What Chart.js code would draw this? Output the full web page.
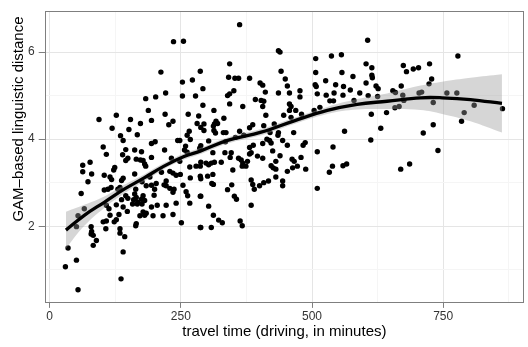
<!DOCTYPE html>
<html>
<head>
<meta charset="utf-8">
<script src="https://cdn.jsdelivr.net/npm/chart.js@4/dist/chart.umd.min.js"></script>
<style>
  html, body { margin: 0; padding: 0; background: #ffffff; }
  canvas { display: block; }
</style>
</head>
<body>
<canvas id="chart" width="528" height="347"></canvas>
<script>
// Travel time between locations (minutes) and their linguistic distance
const travelTime = [
  236,255,212,253,272,183,202,221,253,278,188,220,264,284,94,127,154,173,194,235,227,119,151,167,135,140,194,201,244,248,266,262,268,259,281,102,
  362,436,439,507,537,556,343,287,341,353,360,381,441,449,507,557,526,453,401,406,506,508,545,560,292,351,339,343,411,436,457,477,477,510,527,542,559,534,541,392,403,408,343,292,368,406,457,460,457,469,313,504,515,412,446,460,480,332,317,314,312,320,294,387,408,428,288,294,313,316,331,336,362,381,562,370,354,420,436,435,465,406,414,419,422,444,453,483,487,303,288,335,381,388,540,
  606,778,603,614,674,680,693,703,724,578,614,615,603,622,626,728,723,670,591,607,625,654,659,673,704,709,757,776,580,675,731,658,666,613,642,790,809,863,785,631,731,712,612,740,573,
  669,686,
  145,162,175,219,257,262,286,108,139,149,145,165,173,178,194,232,248,77,63,63,80,124,122,181,183,267,279,287,229,235,241,249,162,104,213,115,118,140,137,73,191,268,287,176,203,222,194,184,218,254,222,229,237,235,104,111,117,130,134,164,162,200,199,260,60,263,287,145,137,149,160,165,168,175,178,181,176,158,167,241,267,194,205,222,108,127,66,113,140,148,178,184,181,172,197,216,235,132,115,54,102,108,127,123,251,165,164,51,79,80,79,83,107,134,134,143,287,89,83,35,140,51,30,136,54,
  311,334,346,344,288,298,303,308,314,327,360,365,368,367,374,377,381,384,396,406,425,439,431,422,426,431,462,466,479,453,463,472,488,510,539,533,559,566,349,301,311,288,309,312,347,339,384,387,390,400,408,417,431,444,444,510,288,352,356,303,384,312,322,329,288,308,363,367
];
const lingDist = [
  6.24,6.25,5.54,5.31,5.36,4.93,4.97,5.06,4.99,4.99,4.66,4.57,4.57,4.53,4.45,4.55,4.45,4.36,4.43,4.41,4.33,4.25,4.22,4.10,4.08,3.97,3.90,3.94,3.97,3.97,4.18,4.09,3.99,3.84,4.36,3.82,
  6.63,6.03,6.00,5.85,5.91,5.94,5.73,5.56,5.42,5.40,5.40,5.40,5.56,5.38,5.53,5.53,5.34,5.22,5.29,5.24,5.25,5.21,5.25,5.21,5.16,5.11,5.00,5.04,5.08,5.06,5.06,5.11,4.97,5.04,5.01,5.06,5.01,4.88,4.88,4.91,4.89,4.87,4.81,4.78,4.75,4.75,4.81,4.75,4.66,4.66,4.66,4.66,4.73,4.55,4.55,4.50,4.57,4.48,4.41,4.35,4.30,4.36,4.35,4.33,4.31,4.35,4.27,4.20,4.20,4.14,4.15,4.15,4.18,4.26,4.18,4.09,4.04,4.15,4.15,4.09,4.15,3.90,4.00,3.97,3.91,3.97,3.86,3.86,3.92,3.96,3.85,3.94,3.81,3.86,3.82,
  6.27,5.91,5.73,5.64,5.69,5.55,5.61,5.64,5.73,5.44,5.47,5.41,5.29,5.22,5.16,5.38,5.27,5.22,5.06,5.00,4.98,5.11,5.07,5.01,5.06,5.08,5.06,5.06,4.89,4.89,4.84,4.72,4.75,4.57,4.61,4.61,4.78,4.70,4.41,4.25,4.33,4.14,3.98,3.74,5.13,
  3.31,3.43,
  3.76,3.75,3.71,3.75,3.75,3.70,3.79,3.65,3.64,3.56,3.51,3.54,3.52,3.51,3.58,3.56,3.49,3.47,3.40,3.25,3.20,3.35,3.29,3.43,3.38,3.36,3.38,3.38,3.26,3.22,3.17,3.19,3.20,3.17,3.24,3.13,3.07,3.10,3.05,3.02,3.13,3.11,3.15,3.02,2.98,3.04,2.94,2.93,2.95,2.94,2.93,2.87,2.85,2.78,2.83,2.85,2.89,2.85,2.89,2.85,2.74,2.85,2.71,2.79,2.75,2.70,2.69,2.70,2.61,2.64,2.61,2.66,2.55,2.62,2.70,2.59,2.51,2.51,2.51,2.53,2.53,2.44,2.48,2.48,2.48,2.49,2.40,2.40,2.44,2.34,2.33,2.30,2.25,2.24,2.24,2.24,2.27,2.27,2.25,2.24,2.10,2.12,2.15,2.10,2.08,2.06,2.01,1.99,1.99,1.88,1.82,1.79,1.94,1.94,1.84,1.76,1.97,1.67,1.56,1.50,1.41,1.22,1.07,0.79,0.54,
  3.69,3.69,3.69,3.58,3.47,3.45,3.41,3.45,3.47,3.47,3.56,3.52,3.45,3.38,3.38,3.49,3.66,3.69,3.61,3.56,3.73,3.62,3.49,3.39,3.34,3.31,3.54,3.49,3.58,3.26,3.34,3.38,3.31,3.71,3.38,3.24,3.39,3.43,3.29,3.15,3.19,3.09,2.98,2.96,2.95,2.84,3.06,2.96,2.85,2.93,3.00,3.04,3.13,3.04,2.93,2.87,2.69,2.69,2.62,2.46,2.48,2.25,2.14,2.08,1.97,1.97,2.12,2.01
];

// Smooth (GAM) fit with its confidence band
const fitTime  = [31, 66, 104, 142, 180, 218, 256, 288, 339, 403, 466, 529, 586, 643, 707, 748, 802, 862];
const fitDist  = [1.91, 2.25, 2.55, 2.85, 3.11, 3.38, 3.60, 3.73, 3.97, 4.16, 4.42, 4.66, 4.80, 4.87, 4.95, 4.95, 4.91, 4.82];
const bandHigh = [2.33, 2.49, 2.68, 2.95, 3.19, 3.45, 3.67, 3.80, 4.04, 4.23, 4.49, 4.74, 4.92, 5.05, 5.23, 5.32, 5.41, 5.49];
const bandLow  = [1.49, 2.01, 2.42, 2.75, 3.03, 3.31, 3.53, 3.66, 3.90, 4.09, 4.35, 4.58, 4.68, 4.69, 4.67, 4.58, 4.41, 4.15];

// Axis ticks (major, labelled) and minor grid positions
const xTicks = [0, 250, 500, 750];
const xMinor = [125, 375, 625, 875];
const yTicks = [2, 4, 6];
const yMinor = [1, 3, 5];

const xTitle = 'travel time (driving, in minutes)';
const yTitle = 'GAM\u2013based linguistic distance';

const FONT = "'Liberation Sans', Arial, Helvetica, sans-serif";
const toPoints = (xs, ys) => xs.map((x, i) => ({ x: x, y: ys[i] }));

Chart.defaults.font.family = FONT;

// Grey frame around the plotting panel
const panelBorder = {
  id: 'panelBorder',
  afterDraw(chart) {
    const { ctx, chartArea: a } = chart;
    ctx.save();
    ctx.strokeStyle = '#7f7f7f';
    ctx.lineWidth = 1;
    ctx.strokeRect(Math.round(a.left) + 0.5, Math.round(a.top) + 0.5,
                   Math.round(a.right - a.left) - 1, Math.round(a.bottom - a.top) - 1);
    ctx.restore();
  }
};

// Rotated title of the vertical axis
const yAxisTitle = {
  id: 'yAxisTitle',
  afterDraw(chart) {
    const { ctx } = chart;
    ctx.save();
    ctx.translate(19.3, 119);
    ctx.rotate(-Math.PI / 2);
    ctx.font = '15px ' + FONT;
    ctx.fillStyle = '#000000';
    ctx.textAlign = 'center';
    ctx.textBaseline = 'middle';
    ctx.fillText(yTitle, 0, 0);
    ctx.restore();
  }
};

function axisGrid(major) {
  return {
    drawTicks: true,
    color: c => (c.tick && major.includes(c.tick.value)) ? '#e5e5e5' : '#f5f5f5',
    lineWidth: 1,
    tickColor: c => (c.tick && major.includes(c.tick.value)) ? '#7f7f7f' : 'rgba(0,0,0,0)',
    tickWidth: 1
  };
}

new Chart(document.getElementById('chart'), {
  type: 'scatter',
  data: {
    datasets: [
      {
        label: 'fit',
        data: toPoints(fitTime, fitDist),
        showLine: true,
        borderColor: '#000000',
        borderWidth: 3.3,
        pointRadius: 0,
        tension: 0.4,
        fill: false,
        order: 0
      },
      {
        label: 'band upper',
        data: toPoints(fitTime, bandHigh),
        showLine: true,
        borderWidth: 0,
        borderColor: 'rgba(0,0,0,0)',
        backgroundColor: 'rgba(153,153,153,0.4)',
        pointRadius: 0,
        tension: 0.4,
        fill: '+1',
        order: 1
      },
      {
        label: 'band lower',
        data: toPoints(fitTime, bandLow),
        showLine: true,
        borderWidth: 0,
        borderColor: 'rgba(0,0,0,0)',
        pointRadius: 0,
        tension: 0.4,
        fill: false,
        order: 1
      },
      {
        label: 'locations',
        data: toPoints(travelTime, lingDist),
        showLine: false,
        pointRadius: 2.7,
        pointBorderWidth: 0,
        pointBackgroundColor: '#000000',
        pointBorderColor: '#000000',
        order: 2
      }
    ]
  },
  options: {
    responsive: false,
    animation: false,
    devicePixelRatio: 1,
    layout: { padding: { top: 4.7, right: 2.4, bottom: 0, left: 0 } },
    plugins: {
      legend: { display: false },
      tooltip: { enabled: false }
    },
    scales: {
      x: {
        type: 'linear',
        position: 'bottom',
        min: -9.5,
        max: 904,
        afterBuildTicks: s => { s.ticks = xTicks.concat(xMinor).sort((a, b) => a - b).map(v => ({ value: v })); },
        afterFit: s => { s.height = 44.1; },
        border: { display: false },
        grid: Object.assign(axisGrid(xTicks), { tickLength: 5 }),
        ticks: {
          autoSkip: false,
          maxRotation: 0,
          padding: 2,
          color: '#333333',
          font: { size: 12 },
          callback: v => xTicks.includes(v) ? String(v) : ''
        },
        title: {
          display: true,
          text: xTitle,
          color: '#000000',
          font: { size: 15 },
          padding: { top: 0, bottom: 6.3 }
        }
      },
      y: {
        type: 'linear',
        min: 0.238,
        max: 6.939,
        afterBuildTicks: s => { s.ticks = yMinor.concat(yTicks).sort((a, b) => a - b).map(v => ({ value: v })); },
        afterFit: s => { s.width = 44.7; },
        border: { display: false },
        grid: Object.assign(axisGrid(yTicks), { tickLength: 6 }),
        ticks: {
          autoSkip: false,
          padding: 4,
          color: '#333333',
          font: { size: 12 },
          callback: v => yTicks.includes(v) ? String(v) : ''
        },
        title: { display: false }
      }
    }
  },
  plugins: [panelBorder, yAxisTitle]
});
</script>
</body>
</html>
